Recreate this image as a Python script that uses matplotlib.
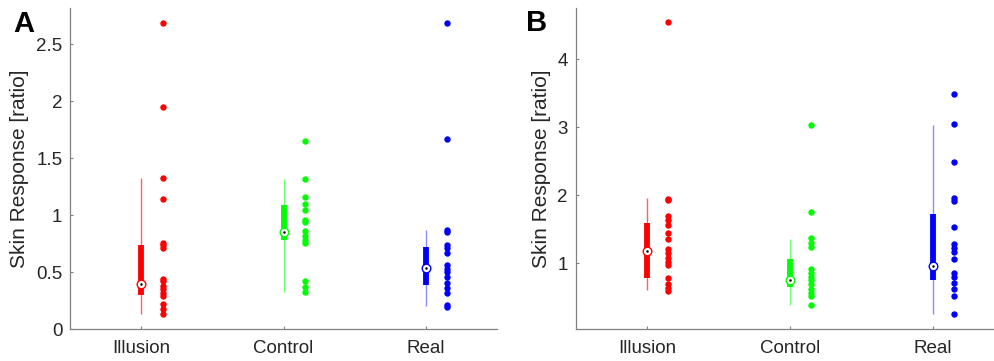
import numpy as np
import matplotlib
matplotlib.use("Agg")
import matplotlib.pyplot as plt
from matplotlib.ticker import FuncFormatter

plt.rcParams['font.family'] = ['Liberation Sans', 'DejaVu Sans']

categories = ["Illusion", "Control", "Real"]
colors = ["#ff0000", "#00ff00", "#0000ff"]
whisker_colors = ["#ff6060", "#70ff70", "#8c8cff"]

# Panel A raw values
a_illusion = [2.69, 1.95, 1.33, 1.14, 0.76, 0.74, 0.71, 0.44, 0.42, 0.38, 0.35,
              0.32, 0.29, 0.22, 0.18, 0.13]
a_control = [1.65, 1.32, 1.16, 1.10, 1.05, 0.96, 0.94, 0.86, 0.82, 0.78, 0.76,
             0.42, 0.37, 0.33]
a_real = [2.69, 1.67, 0.87, 0.85, 0.74, 0.71, 0.67, 0.56, 0.53, 0.50, 0.46,
          0.41, 0.36, 0.32, 0.21, 0.20]
# Panel A box summaries (median, q1, q3, lower whisker, upper whisker)
a_med = [0.40, 0.85, 0.54]
a_q1 = [0.30, 0.78, 0.39]
a_q3 = [0.74, 1.09, 0.725]
a_wlo = [0.13, 0.33, 0.205]
a_whi = [1.33, 1.32, 0.87]

# Panel B raw values
b_illusion = [4.54, 1.95, 1.93, 1.69, 1.63, 1.56, 1.44, 1.35, 1.21, 1.15, 1.08,
              1.02, 0.97, 0.78, 0.70, 0.64, 0.59]
b_control = [3.03, 1.76, 1.37, 1.30, 1.24, 0.91, 0.85, 0.80, 0.75, 0.70, 0.62,
             0.56, 0.52, 0.38]
b_real = [3.49, 3.04, 2.49, 1.96, 1.92, 1.54, 1.28, 1.22, 1.16, 1.06, 0.86,
          0.80, 0.71, 0.62, 0.52, 0.25]
b_med = [1.18, 0.75, 0.956]
b_q1 = [0.78, 0.657, 0.755]
b_q3 = [1.59, 1.064, 1.72]
b_wlo = [0.60, 0.387, 0.255]
b_whi = [1.956, 1.358, 3.034]

a_yticks = [0, 0.5, 1, 1.5, 2, 2.5]
b_yticks = [1, 2, 3, 4]

fig = plt.figure(figsize=(9.94, 3.61), dpi=100)
axA = fig.add_axes([70 / 994, 1 - 329.3 / 361, 427 / 994, 321.3 / 361])
axB = fig.add_axes([575.5 / 994, 1 - 329.3 / 361, 429 / 994, 321.3 / 361])

spine_col = "#808080"
text_col = "#262626"


def draw(ax, groups, med, q1, q3, wlo, whi, ylim, yticks, label_x):
    pos = np.arange(1, len(groups) + 1)
    for i, (vals, c, wc) in enumerate(zip(groups, colors, whisker_colors)):
        p = pos[i]
        # whisker
        ax.vlines(p, wlo[i], whi[i], color=wc, lw=1.0, zorder=2)
        # box (thick bar)
        ax.vlines(p, q1[i], q3[i], color=c, lw=4.2, zorder=3)
        # median marker
        ax.plot([p], [med[i]], 'o', ms=6.2, mfc='white', mec=c, mew=1.0, zorder=4)
        ax.plot([p], [med[i]], 'o', ms=1.8, mfc='black', mec='black', mew=0, zorder=5)
        # data points
        ax.plot(np.full(len(vals), p + 0.15), vals, 'o', ms=4.6, color=c,
                mew=0, zorder=3)
    ax.set_xlim(0.5, 3.5)
    ax.set_ylim(*ylim)
    ax.set_xticks(pos)
    ax.set_xticklabels(categories)
    ax.set_yticks(yticks)
    ax.yaxis.set_major_formatter(FuncFormatter(lambda v, _: "%g" % v))
    for s in ['top', 'right']:
        ax.spines[s].set_visible(False)
    for s in ['left', 'bottom']:
        ax.spines[s].set_color(spine_col)
        ax.spines[s].set_linewidth(0.9)
    ax.tick_params(direction='in', length=2.5, width=0.8, color=spine_col,
                   labelcolor=text_col, labelsize=13.5)
    ax.tick_params(axis='x', pad=8)
    ax.tick_params(axis='y', pad=5.5)
    ax.set_ylabel("Skin Response [ratio]", fontsize=15, color=text_col)
    ax.yaxis.set_label_coords(label_x, 0.5)


draw(axA, [a_illusion, a_control, a_real], a_med, a_q1, a_q3, a_wlo, a_whi,
     (0, 2.82), a_yticks, (29 - 70) / 427)
draw(axB, [b_illusion, b_control, b_real], b_med, b_q1, b_q3, b_wlo, b_whi,
     (0.03, 4.75), b_yticks, (551 - 575.5) / 429)

fig.text(13 / 994, 1 - 32 / 361, "A", fontsize=21, fontweight='bold',
         va='baseline', ha='left', color='black')
fig.text(526 / 994, 1 - 31 / 361, "B", fontsize=21, fontweight='bold',
         va='baseline', ha='left', color='black')

fig.savefig("out.png", dpi=100)
